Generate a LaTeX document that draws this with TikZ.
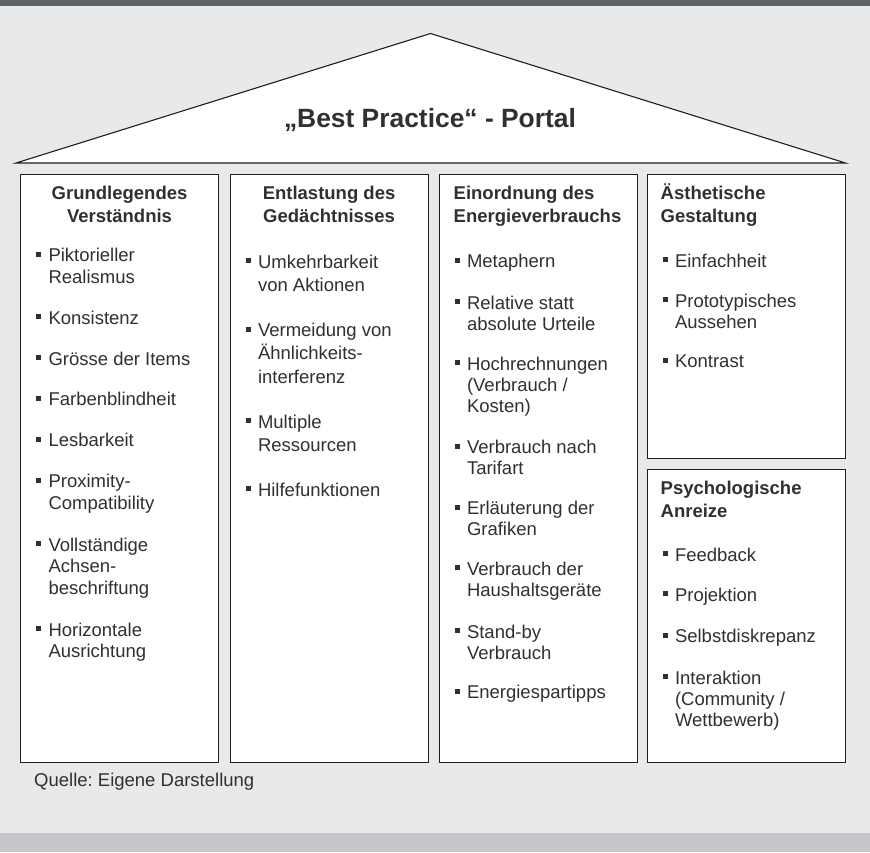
\documentclass[tikz,border=0pt]{standalone}
\usepackage{fontspec}
\setmainfont{Liberation Sans}
\frenchspacing
\usetikzlibrary{positioning}
\definecolor{page}{HTML}{E8E9EB}
\definecolor{topbar}{HTML}{5F6266}
\definecolor{footbar}{HTML}{C6C7CB}
\definecolor{ink}{HTML}{303030}
\definecolor{frame}{HTML}{1E1E1E}
\newcommand{\tstrut}{\rule{0pt}{18pt}}
\newcommand{\bul}{\tstrut\llap{\rule[5pt]{5pt}{5pt}\hspace{7pt}}}

\begin{document}
\begin{tikzpicture}[x=1pt,y=-1pt,
  col/.style={draw=frame,line width=1.1pt,fill=white,anchor=north west,inner sep=0,minimum width=198pt},
  head/.style={font=\fontsize{18.5}{23}\selectfont\bfseries,text=ink,inner sep=0},
  items/.style={font=\fontsize{18.5}{#1}\selectfont,text=ink,align=left,inner sep=0,anchor=north west}]
\useasboundingbox (0,0) rectangle (870,852);
\fill[page] (0,0) rectangle (870,852);
\fill[topbar] (0,0) rectangle (870,6);
\fill[footbar] (0,833) rectangle (870,852);

% roof
\coordinate (apex) at (430.5,33.5);
\coordinate (eaveL) at (16,163);
\coordinate (eaveR) at (845.5,163);
\draw[frame,line width=1.1pt,fill=white] (eaveL) -- (apex) -- (eaveR) -- cycle;
\node[font=\fontsize{26.4}{30}\selectfont\bfseries,text=ink] (title) at (430,120) {„Best Practice“ - Portal};

% pillars
\node[col,minimum height=588pt] (c1) at (20,174) {};
\node[col,minimum height=588pt] (c2) at (229.5,174) {};
\node[col,minimum height=588pt] (c3) at (438.5,174) {};
\node[col,minimum height=284pt] (c4) at (646.5,174) {};
\node[col,minimum height=293pt] (c5) at (646.5,469) {};

\node[head,align=center,below=7pt of c1.north] (h1) {\tstrut Grundlegendes\\Verständnis};
\node[head,align=center,below=7pt of c2.north] (h2) {\tstrut Entlastung des\\Gedächtnisses};
\node[head,align=left,anchor=north west] (h3) at ([xshift=15pt,yshift=-7pt]c3.north west) {\tstrut Einordnung des\\Energieverbrauchs};
\node[head,align=left,anchor=north west] (h4) at ([xshift=14pt,yshift=-7pt]c4.north west) {\tstrut Ästhetische\\Gestaltung};
\node[head,align=left,anchor=north west] (h5) at ([xshift=14pt,yshift=-7pt]c5.north west) {\tstrut Psychologische\\Anreize};

\node[items=21.6] (l1) at ([xshift=28.3pt,yshift=-69.7pt]c1.north west)
  {\bul Piktorieller\\Realismus\\[19.2pt]\bul Konsistenz\\[19.2pt]\bul Grösse der Items\\[19.2pt]\bul Farbenblindheit\\[19.2pt]\bul Lesbarkeit\\[19.2pt]\bul Proximity-\\Compatibility\\[19.2pt]\bul Vollständige\\Achsen-\\beschriftung\\[19.2pt]\bul Horizontale\\Ausrichtung};
\node[items=23.3] (l2) at ([xshift=28.3pt,yshift=-76pt]c2.north west)
  {\bul Umkehrbarkeit\\von Aktionen\\[21.7pt]\bul Vermeidung von\\Ähnlichkeits-\\interferenz\\[21.7pt]\bul Multiple\\Ressourcen\\[21.7pt]\bul Hilfefunktionen};
\node[items=21] (l3) at ([xshift=28.3pt,yshift=-75.5pt]c3.north west)
  {\bul Metaphern\\[18.8pt]\bul Relative statt\\absolute Urteile\\[18.8pt]\bul Hochrechnungen\\(Verbrauch /\\Kosten)\\[18.8pt]\bul Verbrauch nach\\Tarifart\\[18.8pt]\bul Erläuterung der\\Grafiken\\[18.8pt]\bul Verbrauch der\\Haushaltsgeräte\\[18.8pt]\bul Stand-by\\Verbrauch\\[18.8pt]\bul Energiespartipps};
\node[items=21] (l4) at ([xshift=28.3pt,yshift=-75pt]c4.north west)
  {\bul Einfachheit\\[18.8pt]\bul Prototypisches\\Aussehen\\[18.8pt]\bul Kontrast};
\node[items=21] (l5) at ([xshift=28.3pt,yshift=-74pt]c5.north west)
  {\bul Feedback\\[18.8pt]\bul Projektion\\[18.8pt]\bul Selbstdiskrepanz\\[18.8pt]\bul Interaktion\\(Community /\\Wettbewerb)};

\node[anchor=west,font=\fontsize{18.5}{22}\selectfont,text=ink,inner sep=0] (src) at (34,782) {Quelle: Eigene Darstellung};
\end{tikzpicture}
\end{document}
